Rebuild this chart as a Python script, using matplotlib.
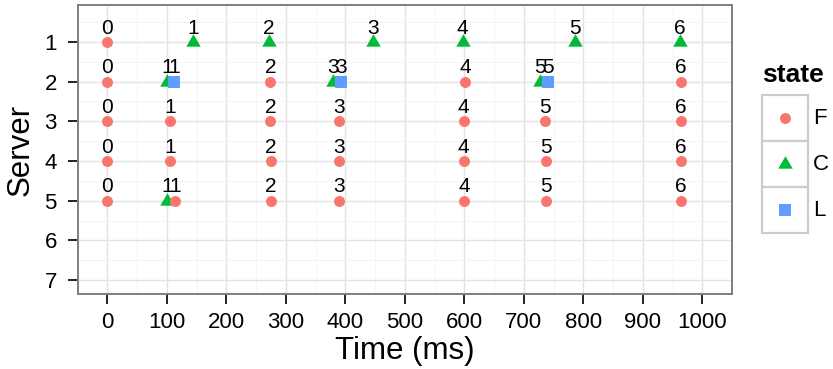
import matplotlib
matplotlib.use("Agg")
import matplotlib.pyplot as plt
from matplotlib.path import Path
from matplotlib.patches import Rectangle

plt.rcParams['font.family'] = ['Liberation Sans', 'DejaVu Sans']

# Legend order and colours for each node state
states = ["F", "C", "L"]
state_colors = ["#F8766D", "#00BA38", "#619CFF"]

# Event log: time (ms), server, state and round number of every event
time_ms = [0, 144, 271, 446, 597, 786, 962,
           0, 100, 112, 274, 379, 392, 601, 727, 740, 964,
           0, 105, 274, 389, 599, 735, 964,
           0, 106, 275, 389, 599, 737, 964,
           0, 100, 114, 275, 389, 600, 737, 964]
server = [1, 1, 1, 1, 1, 1, 1,
          2, 2, 2, 2, 2, 2, 2, 2, 2, 2,
          3, 3, 3, 3, 3, 3, 3,
          4, 4, 4, 4, 4, 4, 4,
          5, 5, 5, 5, 5, 5, 5, 5]
state = ["F", "C", "C", "C", "C", "C", "C",
         "F", "C", "L", "F", "C", "L", "F", "C", "L", "F",
         "F", "F", "F", "F", "F", "F", "F",
         "F", "F", "F", "F", "F", "F", "F",
         "F", "C", "F", "F", "F", "F", "F", "F"]
round_no = [0, 1, 2, 3, 4, 5, 6,
            0, 1, 1, 2, 3, 3, 4, 5, 5, 6,
            0, 1, 2, 3, 4, 5, 6,
            0, 1, 2, 3, 4, 5, 6,
            0, 1, 1, 2, 3, 4, 5, 6]

x_ticks = [0, 100, 200, 300, 400, 500, 600, 700, 800, 900, 1000]
y_ticks = [1, 2, 3, 4, 5, 6, 7]

# equilateral triangle centred on its centroid
tri = Path([(0, 0.577), (-0.5, -0.289), (0.5, -0.289), (0, 0.577)],
           [Path.MOVETO, Path.LINETO, Path.LINETO, Path.CLOSEPOLY])
marker_style = {"F": dict(marker="o", ms=7.9),
                "C": dict(marker=tri, ms=12),
                "L": dict(marker="s", ms=8.4)}
color_of = dict(zip(states, state_colors))

fig = plt.figure(figsize=(8.33, 3.69), dpi=100)
ax = fig.add_axes([77.7 / 833, (369 - 294) / 369, (732 - 77.7) / 833, (294 - 5) / 369])

for i, (t, s, st) in enumerate(zip(time_ms, server, state)):
    ax.plot([t], [s], linestyle="none", color=color_of[st], mew=0,
            zorder=3 + i * 0.001, **marker_style[st])

for t, s, r in zip(time_ms, server, round_no):
    ax.text(t, s - 0.21, str(r), ha="center", va="baseline", fontsize=15,
            color="black", zorder=5)

ax.set_xlim(-50, 1050)
ax.set_ylim(7.35, 0.07)
ax.set_xticks(x_ticks)
ax.set_yticks(y_ticks)
ax.set_xticks([v + 50 for v in [-100] + x_ticks], minor=True)
ax.set_yticks([v - 0.5 for v in y_ticks], minor=True)

ax.set_axisbelow(True)
ax.grid(which="major", color="#E3E3E3", lw=1.0)
ax.grid(which="minor", color="#F4F4F4", lw=0.7)

ax.tick_params(which="major", direction="out", length=7, width=1.4,
               color="#222222", labelsize=16, labelcolor="black")
ax.tick_params(axis="x", which="major", pad=6)
ax.tick_params(axis="y", which="major", pad=8)
ax.tick_params(which="minor", length=0)

for sp in ax.spines.values():
    sp.set_color("#7F7F7F")
    sp.set_linewidth(1.4)

ax.set_xlabel("Time (ms)", fontsize=22.5, labelpad=2)
ax.set_ylabel("Server", fontsize=22.5, labelpad=6)

# legend with boxed keys
lg = fig.add_axes([762 / 833, (369 - 233) / 369, 46 / 833, 138 / 369])
lg.set_xlim(0, 46)
lg.set_ylim(138, 0)
lg.axis("off")
for k, (st, col) in enumerate(zip(states, state_colors)):
    lg.add_patch(Rectangle((0, 46 * k), 46, 46, facecolor="white",
                           edgecolor="#CCCCCC", lw=1.6, clip_on=False))
    lg.plot([23], [23 + 46 * k], linestyle="none", color=col, mew=0,
            clip_on=False, **marker_style[st])
    lg.text(51, 23 + 46 * k, st, ha="left", va="center", fontsize=16,
            clip_on=False)
lg.text(0, -13, "state", ha="left", va="baseline", fontsize=19,
        fontweight="bold", clip_on=False)

fig.savefig("out.png", dpi=100)
